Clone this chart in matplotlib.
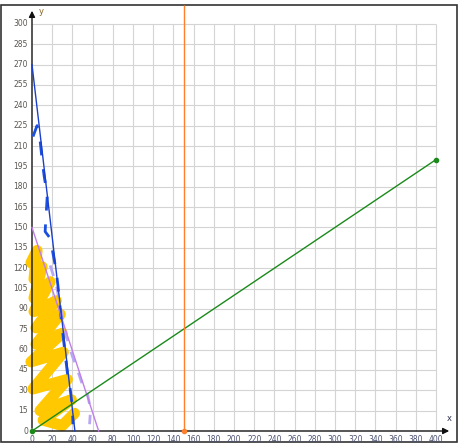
import numpy as np
import matplotlib
matplotlib.use("Agg")
import matplotlib.pyplot as plt
from matplotlib.patches import Rectangle

# tick values
x_ticks = list(range(0, 401, 20))
y_ticks = list(range(0, 301, 15))

# straight lines (endpoints)
blue_x = [0, 42.5]
blue_y = [270, 0]
purple_x = [0, 66]
purple_y = [150, 0]
green_x = [0, 400]
green_y = [0, 200]
orange_x = 150

# hand drawn dashed blue stroke
dash_blue_x = [1, 5, 8, 10, 12, 14, 15, 13, 17, 20, 24, 26, 29, 32, 35, 38, 40, 40.6]
dash_blue_y = [217, 225, 214, 200, 188, 179, 172, 147, 143, 134, 118, 105, 82, 62, 43, 30, 18, 5]

# hand drawn dashed lavender stroke
dash_lav_x = [18, 24, 29, 33, 40, 45, 50, 55, 58, 57]
dash_lav_y = [122, 108, 88, 72, 55, 45, 34, 27, 16, 5]

# yellow scribble
scrib_x = [-1, 5, 2, 10, 2, 18, 2, 24, 4, 28, 4, 30, -1, 31, 1, 35, 8, 39, 11, 30, 42]
scrib_y = [124, 133, 112, 121, 98, 110, 88, 96, 76, 86, 64, 72, 51, 58, 31, 38, 15, 23, 8, 4, 13]

fig = plt.figure(figsize=(4.59, 4.47), dpi=100)
ax = fig.add_axes([0, 0, 1, 1])

# pixel mapping: origin at (32,431), 1.01 px per x unit, 1.357 px per y unit
sx, sy = 1.01, 1.357
ax.set_xlim(-32 / sx, (459 - 32) / sx)
ax.set_ylim((431 - 447) / sy, 431 / sy)
ax.axis("off")

# frame
ax.add_patch(Rectangle((-31 / sx, (431 - 442) / sy), 456 / sx, 437 / sy,
                       fill=False, edgecolor="#333333", lw=1.2, zorder=1))

# grid
ax.vlines(x_ticks[1:], 0, 300, color="#d4d4d4", lw=0.8, zorder=1)
ax.hlines(y_ticks[1:], 0, 400, color="#d4d4d4", lw=0.8, zorder=1)

# axes with arrows
ax.annotate("", xy=(420 / sx, 0), xytext=(0, 0),
            arrowprops=dict(arrowstyle="-|>", color="#111111", lw=1, mutation_scale=9), zorder=3)
ax.annotate("", xy=(0, 423 / sy), xytext=(0, 0),
            arrowprops=dict(arrowstyle="-|>", color="#111111", lw=1, mutation_scale=9), zorder=3)
ax.text(413, 9.5, "x", fontsize=6, color="#333355", ha="center", va="center")
ax.text(9, 309.5, "y", fontsize=6, color="#886622", ha="center", va="center")

for t in x_ticks:
    ax.text(t, -6, str(t), fontsize=5.5, color="#4a5070", ha="center", va="center")
for t in y_ticks:
    ax.text(-4, t, str(t), fontsize=5.5, color="#5a5550", ha="right", va="center")

# yellow scribble
ax.plot(scrib_x, scrib_y, color="#ffc800", lw=8, solid_capstyle="round",
        solid_joinstyle="round", zorder=2)

# dashed strokes
ax.plot(dash_lav_x, dash_lav_y, color="#b8a8f4", lw=2, dashes=(4, 4), zorder=3)
ax.plot(dash_blue_x, dash_blue_y, color="#1a4fe0", lw=2, dashes=(5, 5), zorder=3)

# lines
ax.plot(purple_x, purple_y, color="#bf7fe6", lw=1, zorder=4)
ax.plot(blue_x, blue_y, color="#1a3fcc", lw=1, zorder=4)
ax.plot(green_x, green_y, color="#1a8a1a", lw=1, zorder=4)
ax.plot(green_x, green_y, "o", color="#1a8a1a", ms=3, zorder=5)
ax.vlines(orange_x, 0, 426 / sy, color="#ff7f2a", lw=1, zorder=4)
ax.plot([orange_x], [0], "o", color="#ff7f2a", ms=3, zorder=5)

fig.savefig("out.png", dpi=100)
